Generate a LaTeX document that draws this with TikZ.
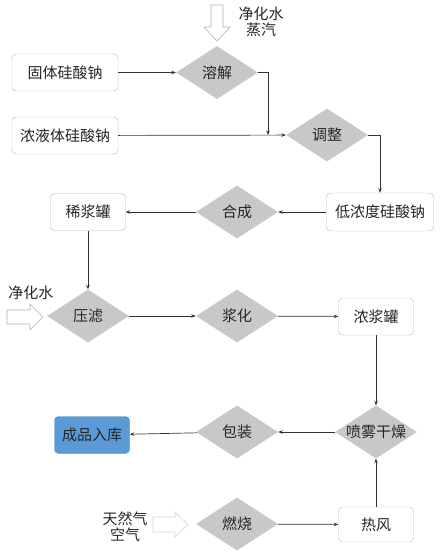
\documentclass[tikz,border=0pt]{standalone}
\usepackage{fontspec}
\setmainfont{Noto Sans CJK SC}
\usetikzlibrary{shapes.geometric,arrows.meta}
\definecolor{diagray}{HTML}{C8C8C8}
\definecolor{boxblue}{HTML}{5B9BD5}

\begin{document}
\begin{tikzpicture}[x=1pt, y=-1pt, font=\fontsize{15}{18}\selectfont, text=black!85,
    box/.style={draw=gray!55, fill=white, rounded corners=4pt, minimum width=75pt, minimum height=37pt, inner sep=2pt},
    dia/.style={diamond, fill=diagray, shape aspect=1.58, inner sep=0pt, minimum width=82pt, minimum height=53pt},
    flow/.style={-{Stealth[length=4.5pt,width=3.5pt]}, line width=0.7pt, draw=black!80},
    hollow/.style={draw=gray!60, fill=white, line width=0.6pt}]
            \useasboundingbox (0,0) rectangle (441,555);

            \node[box, minimum width=106pt] (gtnaso) at (65,72.5) {固体硅酸钠};
            \node[box, minimum width=106pt] (nynaso) at (65,135.5) {浓液体硅酸钠};
            \node[dia] (rongjie) at (217,72.5) {溶解};
            \node[dia] (tiaozheng) at (327,135) {调整};
            \node[box, minimum width=107pt, minimum height=38pt] (dnnaso) at (380,212) {低浓度硅酸钠};
            \node[dia] (hecheng) at (237,212) {合成};
            \node[box] (xijg) at (88,212) {稀浆罐};
            \node[dia] (yalv) at (88,316) {压滤};
            \node[dia] (jianghua) at (237,316) {浆化};
            \node[box] (nongjg) at (376,316.5) {浓浆罐};
            \node[dia] (penwu) at (376,432) {喷雾干燥};
            \node[dia] (baozhuang) at (237,432) {包装};
            \node[box, fill=boxblue, draw=boxblue!90!black] (chengpin) at (92,435) {成品入库};
            \node[dia] (ranshao) at (237,524) {燃烧};
            \node[box, minimum height=35pt] (refeng) at (376,524.5) {热风};

            \node[align=center, inner sep=0pt] (shuiqi) at (261,22) {净化水\\[-2pt]蒸汽};
            \node[inner sep=0pt] (shuiL) at (31,293) {净化水};
            \node[align=center, inner sep=0pt] (qiti) at (125,527) {天然气\\[-2pt]空气};

            \draw[hollow] (211,5) -- (223,5) -- (223,27) -- (230,27) -- (217,41) -- (204,27) -- (211,27) -- cycle;
            \draw[hollow] (7,310) -- (30,310) -- (30,304) -- (43,317) -- (30,330) -- (30,324) -- (7,324) -- cycle;
            \draw[hollow, draw=gray!35] (153,517) -- (175,517) -- (175,512) -- (188,524.5) -- (175,537) -- (175,532) -- (153,532) -- cycle;

            \coordinate (hui) at (268,135);
            \draw[flow] (gtnaso) -- (rongjie);
            \draw[flow] (rongjie.east) -| (hui);
            \draw[flow] (nynaso) -- (tiaozheng);
            \draw[flow] (tiaozheng.east) -| (dnnaso.north);
            \draw[flow] (dnnaso) -- (hecheng);
            \draw[flow] (hecheng) -- (xijg);
            \draw[flow] (xijg.south) -- (yalv.north);
            \draw[flow] (yalv) -- (jianghua);
            \draw[flow] (jianghua) -- (nongjg);
            \draw[flow] (nongjg) -- (penwu);
            \draw[flow] (penwu) -- (baozhuang);
            \draw[flow] (baozhuang) -- (chengpin);
            \draw[flow] (ranshao) -- (refeng);
            \draw[flow] (refeng) -- (penwu);
        \end{tikzpicture}
\end{document}
